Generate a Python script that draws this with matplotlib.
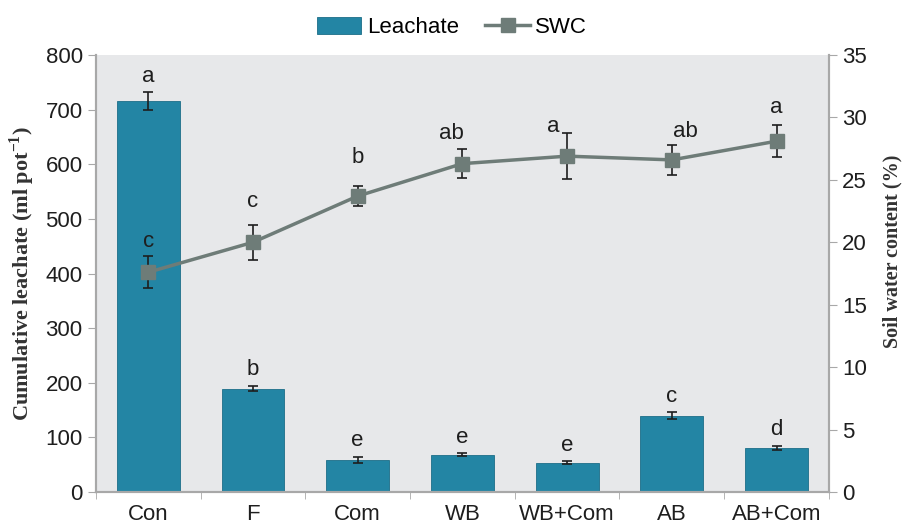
import numpy as np
import matplotlib.pyplot as plt
from matplotlib.ticker import FixedLocator
from matplotlib.lines import Line2D

# data
treatments = ["Con", "F", "Com", "WB", "WB+Com", "AB", "AB+Com"]
leachate = [716, 189, 59, 68, 54, 140, 81]
leachate_err = [16, 5, 5, 3, 2, 6, 4]
leachate_letters = ["a", "b", "e", "e", "e", "c", "d"]
swc = [17.6, 20.0, 23.7, 26.3, 26.9, 26.6, 28.1]
swc_err = [1.3, 1.4, 0.8, 1.15, 1.85, 1.2, 1.3]
swc_letters = ["c", "c", "b", "ab", "a", "ab", "a"]

plt.rcParams['font.family'] = ['Liberation Sans', 'DejaVu Sans']
bar_col = "#2385A4"
line_col = "#6E7C78"
spine_col = "#A8A8A8"
txt_col = "#1E1E1E"

fig = plt.figure(figsize=(9.04, 5.30), dpi=100)
ax = fig.add_axes([0.106, 0.0717, 0.811, 0.8245])
ax.set_facecolor("#E7E8EA")

x = np.arange(len(treatments))
ax.bar(x, leachate, width=0.6, color=bar_col, edgecolor="#1C6E88", linewidth=0.6,
       yerr=leachate_err, capsize=3.5, error_kw=dict(ecolor=txt_col, elinewidth=1.2, capthick=1.2),
       label="Leachate", zorder=2)
ax.set_xlim(-0.5, 6.5)
ax.set_ylim(0, 800)
ax.set_yticks(range(0, 801, 100))
ax.set_xticks(x)
ax.set_xticklabels(treatments, fontsize=16, color=txt_col)
ax.xaxis.set_minor_locator(FixedLocator(np.arange(-0.5, 7, 1)))
ax.tick_params(axis="x", which="major", length=0, pad=9)
ax.tick_params(axis="x", which="minor", length=5, color=spine_col, direction="out")
ax.tick_params(axis="y", labelsize=16, labelcolor=txt_col, length=6, color=spine_col, direction="out")
ax.set_ylabel("Cumulative leachate (ml pot$^{\\mathregular{-1}}$)", family="Liberation Serif",
              fontsize=16, fontweight="bold", color="#333333", labelpad=6)

for xi, v, e, t in zip(x, leachate, leachate_err, leachate_letters):
    ax.annotate(t, (xi, v + e), xytext=(0, 4), textcoords="offset points",
                ha="center", va="bottom", fontsize=16, color=txt_col)

ax2 = ax.twinx()
ax2.errorbar(x, swc, yerr=swc_err, color=line_col, linewidth=2.5, marker="s", markersize=9.5,
             ecolor=txt_col, elinewidth=1.2, capsize=3.5, capthick=1.2, zorder=3)
ax2.set_ylim(0, 35)
ax2.set_yticks(range(0, 36, 5))
ax2.tick_params(axis="y", labelsize=16, labelcolor=txt_col, length=6, color=spine_col, direction="out")
ax2.set_ylabel("Soil water content (%)", family="Liberation Serif",
               fontsize=14.5, fontweight="bold", color="#333333")
ax2.yaxis.set_label_coords(1.073, 0.55)

swc_off = [(0, 3), (0, 9), (0, 13), (-8, 4), (-10, -3), (10, 2), (0, 5)]
for xi, v, e, t, off in zip(x, swc, swc_err, swc_letters, swc_off):
    ax2.annotate(t, (xi, v + e), xytext=off, textcoords="offset points",
                 ha="center", va="bottom", fontsize=16, color=txt_col)

for a in (ax, ax2):
    for s in a.spines.values():
        s.set_color(spine_col)
        s.set_linewidth(1.5)
    a.spines["top"].set_visible(False)

h1, l1 = ax.get_legend_handles_labels()
swc_handle = Line2D([], [], color=line_col, linewidth=2.5, marker="s", markersize=9.5)
fig.legend(h1 + [swc_handle], l1 + ["SWC"], loc="upper center", bbox_to_anchor=(0.5, 1.005), ncol=2,
           frameon=False, fontsize=16, handlelength=2.0, handleheight=0.75, columnspacing=1.2,
           handletextpad=0.25)

fig.savefig("out.png", dpi=100)
